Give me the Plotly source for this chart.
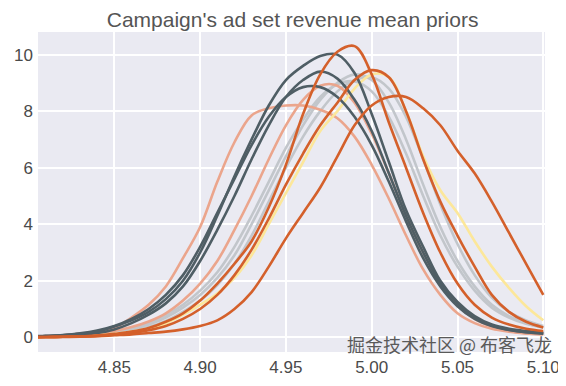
import plotly.graph_objects as go

x_grid = [4.80, 4.81, 4.82, 4.83, 4.84, 4.85, 4.86, 4.87, 4.88, 4.89, 4.90,
          4.91, 4.92, 4.93, 4.94, 4.95, 4.96, 4.97, 4.98, 4.99, 5.00,
          5.01, 5.02, 5.03, 5.04, 5.05, 5.06, 5.07, 5.08, 5.09, 5.10]

gray_1 = [0.01,0.02,0.03,0.06,0.1,0.17,0.28,0.45,0.7,1.05,1.5,2.1,2.9,4.0,5.2,6.4,7.5,8.4,9.0,9.3,9.1,8.3,7.0,5.4,3.9,2.7,1.8,1.15,0.75,0.5,0.35]
gray_2 = [0.01,0.02,0.03,0.05,0.08,0.13,0.22,0.36,0.58,0.9,1.3,1.85,2.6,3.6,4.8,6.0,7.1,8.0,8.7,9.1,9.2,8.8,7.8,6.3,4.7,3.3,2.2,1.4,0.9,0.6,0.4]
gray_3 = [0.01,0.02,0.04,0.07,0.12,0.2,0.32,0.5,0.78,1.15,1.65,2.3,3.2,4.3,5.5,6.7,7.7,8.5,8.95,9.05,8.7,7.8,6.5,5.0,3.6,2.5,1.65,1.05,0.7,0.48,0.35]
yellow_1 = [0.0,0.01,0.02,0.04,0.07,0.12,0.2,0.32,0.5,0.8,1.15,1.55,2.1,2.9,4.0,5.1,6.2,7.3,8.0,8.8,9.3,9.2,8.0,6.4,5.2,4.4,3.4,2.5,1.75,1.1,0.6]
salmon_2 = [0.02,0.03,0.05,0.08,0.13,0.22,0.36,0.56,0.85,1.3,1.9,2.7,3.8,5.0,6.3,7.5,8.4,8.9,8.9,8.3,7.2,5.8,4.3,3.0,1.9,1.15,0.65,0.38,0.22,0.14,0.1]
salmon_1 = [0.02,0.04,0.07,0.12,0.2,0.33,0.7,1.15,1.8,2.8,3.9,5.5,6.9,7.85,8.1,8.2,8.2,8.05,7.75,7.1,6.1,4.9,3.6,2.4,1.5,0.85,0.5,0.3,0.2,0.14,0.12]
dark_3 = [0.03,0.05,0.08,0.14,0.24,0.4,0.65,1.0,1.5,2.2,3.2,4.4,5.6,6.8,7.8,8.5,8.85,8.85,8.5,7.8,6.8,5.5,4.1,2.8,1.8,1.1,0.65,0.4,0.26,0.18,0.14]
dark_2 = [0.02,0.03,0.05,0.09,0.15,0.28,0.5,0.8,1.2,1.8,2.7,3.8,5.0,6.3,7.5,8.5,9.1,9.4,9.15,8.4,7.3,5.8,4.3,3.0,1.9,1.2,0.7,0.42,0.27,0.18,0.13]
dark_1 = [0.02,0.04,0.07,0.12,0.2,0.38,0.6,0.9,1.35,2.0,3.0,4.3,5.7,7.0,8.2,9.1,9.6,9.95,10.0,9.35,7.9,6.2,4.5,3.2,2.0,1.25,0.75,0.45,0.3,0.22,0.17]
orange_2 = [0.0,0.01,0.02,0.03,0.05,0.09,0.15,0.25,0.4,0.65,1.0,1.5,2.2,3.1,4.2,5.4,6.5,7.5,8.3,9.1,9.45,9.2,8.0,6.3,4.8,3.6,2.5,1.5,0.9,0.55,0.35]
orange_3 = [0.0,0.0,0.01,0.02,0.04,0.07,0.1,0.15,0.2,0.28,0.4,0.6,1.0,1.6,2.5,3.5,4.4,5.3,6.4,7.5,8.2,8.5,8.5,8.1,7.5,6.6,5.8,4.8,3.7,2.6,1.5]
orange_1 = [0.0,0.01,0.02,0.03,0.06,0.12,0.2,0.33,0.55,0.85,1.3,1.9,2.6,3.4,4.6,6.1,7.9,9.3,10.1,10.3,9.3,7.6,6.0,4.4,3.0,1.9,1.15,0.7,0.45,0.3,0.22]

x_ticks = [4.85, 4.90, 4.95, 5.00, 5.05, 5.10]
x_tick_labels = ["4.85", "4.90", "4.95", "5.00", "5.05", "5.10"]
y_ticks = [0, 2, 4, 6, 8, 10]

DARK = "#4f5e65"
ORANGE = "#d4602b"
SALMON = "#eba58c"
YELLOW = "#fce79a"
GRAY = "#c2c6cb"

series = [
    (gray_1, GRAY), (gray_2, GRAY), (gray_3, GRAY),
    (salmon_2, SALMON), (salmon_1, SALMON),
    (yellow_1, YELLOW),
    (dark_3, DARK), (dark_2, DARK), (dark_1, DARK),
    (orange_2, ORANGE), (orange_3, ORANGE), (orange_1, ORANGE),
]

fig = go.Figure()
for ys, col in series:
    fig.add_trace(go.Scatter(x=x_grid, y=ys, mode="lines",
                             line=dict(color=col, width=2.6, shape="spline", smoothing=1.0),
                             showlegend=False, hoverinfo="skip"))

# page has an 8px body margin, so the figure is sized/offset to compensate
fig.update_layout(
    width=558, height=378,
    margin=dict(l=30, r=21, t=24, b=34),
    paper_bgcolor="white",
    plot_bgcolor="#EAEAF2",
    font=dict(family="Liberation Sans, Arial, sans-serif", color="#4a4a4a"),
    title=dict(text="Campaign's ad set revenue mean priors",
               x=0.51, xanchor="center", y=0.97, yanchor="middle", automargin=False,
               font=dict(size=21, color="#555555")),
    xaxis=dict(range=[4.8055, 5.101], tickvals=x_ticks, ticktext=x_tick_labels,
               showgrid=True, gridcolor="white", gridwidth=1.5, zeroline=False,
               showline=False, ticks="", automargin=False, ticklabelstandoff=3,
               tickfont=dict(size=17, color="#4a4a4a")),
    yaxis=dict(range=[-0.52, 10.8], tickvals=y_ticks,
               showgrid=True, gridcolor="white", gridwidth=1.5, zeroline=False,
               showline=False, ticks="", automargin=False, ticklabelstandoff=4,
               tickfont=dict(size=17, color="#4a4a4a")),
    annotations=[dict(text="掘金技术社区 @ 布客飞龙", xref="paper", yref="paper",
                      x=1.018, y=0.025, xanchor="right", yanchor="middle", showarrow=False,
                      font=dict(family="Noto Sans CJK SC", size=18, color="#5a5a5a"))],
)

fig.write_html("out.html")
